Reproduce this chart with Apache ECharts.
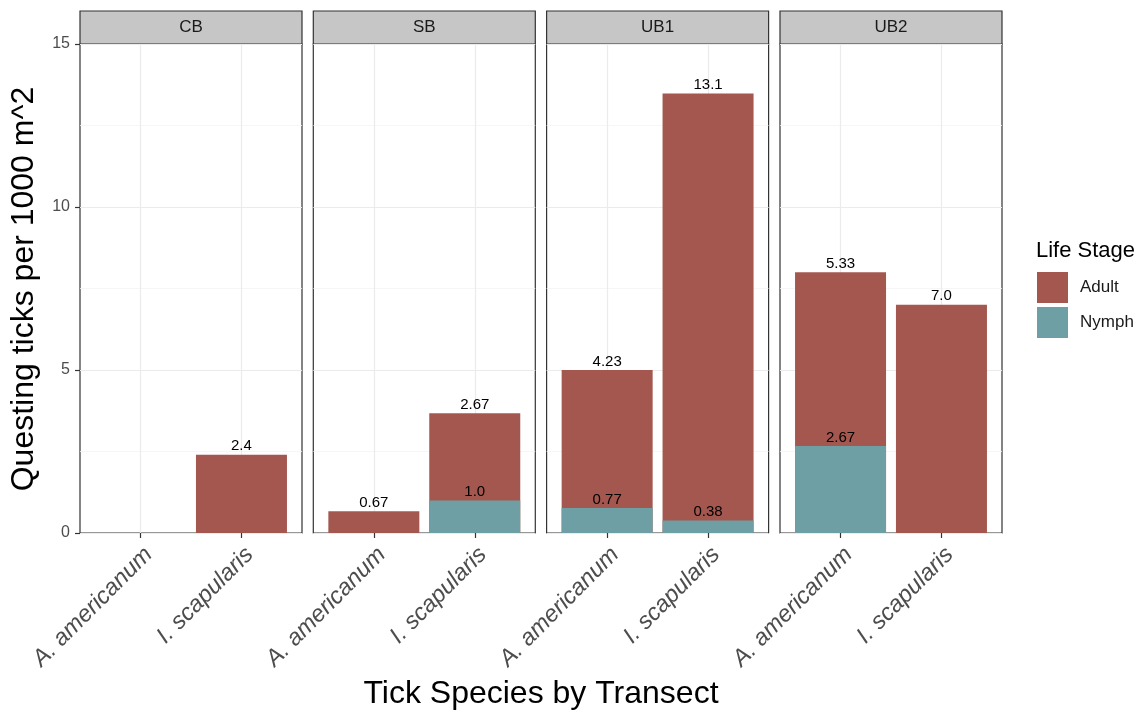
<!DOCTYPE html>
<html>
<head>
<meta charset="utf-8">
<script src="https://cdn.jsdelivr.net/npm/echarts@6/dist/echarts.min.js"></script>
<style>
  html, body { margin: 0; padding: 0; background: #fff; }
  #chart { width: 1141px; height: 712px; }
</style>
</head>
<body>
<div id="chart"></div>
<script>
// data
var transects = ['CB', 'SB', 'UB1', 'UB2'];
var species = ['A. americanum', 'I. scapularis'];
var adultValues = [[0, 2.4], [0.67, 2.67], [4.23, 13.1], [5.33, 7.0]];
var nymphValues = [[0, 0], [0, 1.0], [0.77, 0.38], [2.67, 0]];
var yTicks = [0, 5, 10, 15];

var FONT = '"Liberation Sans", Arial, sans-serif';
var ADULT = '#A4574F';
var NYMPH = '#6E9FA5';

// panel layout
var panelLeft = [80, 313.3, 546.6, 780];
var panelW = 222;
var panelTop = 44;
var panelH = 489;
var stripH = 33;

function fmt(v) {
  if (!v) return '';
  if (v >= 10 || Math.abs(v * 10 - Math.round(v * 10)) < 1e-9) return v.toFixed(1);
  return v.toFixed(2);
}

var grids = [], xAxes = [], yAxes = [], series = [], graphics = [];

transects.forEach(function (t, i) {
  grids.push({
    left: panelLeft[i], top: panelTop, width: panelW, height: panelH,
    show: true, borderColor: '#333333', borderWidth: 1.2, backgroundColor: 'transparent'
  });
  xAxes.push({
    gridIndex: i, type: 'value', min: 0.4, max: 2.6,
    axisLine: { show: false },
    axisTick: { show: true, customValues: [1, 2], length: 5, lineStyle: { color: '#333333', width: 1.2 } },
    axisLabel: {
      customValues: [1, 2], rotate: 45, margin: 10, align: 'right', verticalAlign: 'top',
      fontSize: 23.5, fontStyle: 'italic', fontFamily: FONT, color: '#4D4D4D',
      formatter: function (v) { return species[Math.round(v) - 1]; }
    },
    splitLine: { show: true, lineStyle: { color: '#EBEBEB', width: 1.2 } }
  });
  yAxes.push({
    gridIndex: i, type: 'value', min: yTicks[0], max: yTicks[yTicks.length - 1], interval: 5,
    axisLine: { show: false },
    axisTick: { show: i === 0, length: 5, lineStyle: { color: '#333333', width: 1.2 } },
    axisLabel: { show: i === 0, fontSize: 16, fontFamily: FONT, color: '#4D4D4D', margin: 10 },
    splitLine: { show: true, lineStyle: { color: '#EBEBEB', width: 1.2 } },
    minorTick: { show: false, splitNumber: 2 },
    minorSplitLine: { show: true, lineStyle: { color: '#F4F4F4', width: 0.8 } }
  });

  // stacked look: adult bar spans the whole stack, nymph bar sits on top of it from 0
  series.push({
    name: 'Adult', type: 'bar', xAxisIndex: i, yAxisIndex: i,
    barWidth: 91, barGap: '-100%', itemStyle: { color: ADULT },
    label: {
      show: true, position: 'top', distance: 1,
      fontSize: 15, fontFamily: FONT, color: '#000',
      formatter: function (p) { return fmt(adultValues[i][p.dataIndex]); }
    },
    data: adultValues[i].map(function (v, k) { return [k + 1, v + nymphValues[i][k]]; })
  });
  series.push({
    name: 'Nymph', type: 'bar', xAxisIndex: i, yAxisIndex: i,
    barWidth: 91, barGap: '-100%', itemStyle: { color: NYMPH },
    label: {
      show: true, position: 'top', distance: 1,
      fontSize: 15, fontFamily: FONT, color: '#000',
      formatter: function (p) { return fmt(p.value[1]); }
    },
    data: nymphValues[i].map(function (v, k) { return [k + 1, v]; })
  });

  // facet strip
  graphics.push({
    type: 'rect', shape: { x: panelLeft[i], y: panelTop - stripH, width: panelW, height: stripH },
    style: { fill: '#C6C6C6', stroke: '#333333', lineWidth: 1.2 }
  });
  graphics.push({
    type: 'text', x: panelLeft[i] + panelW / 2, y: panelTop - stripH / 2,
    style: { text: t, fontSize: 17, fontFamily: FONT, fill: '#1A1A1A', align: 'center', verticalAlign: 'middle' }
  });
});

graphics.push({
  type: 'text', x: 541, y: 694,
  style: { text: 'Tick Species by Transect', fontSize: 32, fontFamily: FONT, fill: '#000', align: 'center', verticalAlign: 'middle' }
});
graphics.push({
  type: 'text', x: 24, y: 289, rotation: Math.PI / 2,
  style: { text: 'Questing ticks per 1000 m^2', fontSize: 32, fontFamily: FONT, fill: '#000', align: 'center', verticalAlign: 'middle' }
});
graphics.push({
  type: 'text', x: 1036, y: 251,
  style: { text: 'Life Stage', fontSize: 22, fontFamily: FONT, fill: '#000', align: 'left', verticalAlign: 'middle' }
});

var chart = echarts.init(document.getElementById('chart'));
chart.setOption({
  animation: false,
  grid: grids,
  xAxis: xAxes,
  yAxis: yAxes,
  legend: {
    orient: 'vertical', left: 1037, top: 272, padding: 0,
    itemWidth: 31, itemHeight: 31, itemGap: 4, icon: 'rect',
    data: ['Adult', 'Nymph'],
    textStyle: { fontSize: 17, fontFamily: FONT, color: '#1A1A1A', padding: [0, 0, 0, 7] }
  },
  series: series,
  graphic: graphics
});
</script>
</body>
</html>
